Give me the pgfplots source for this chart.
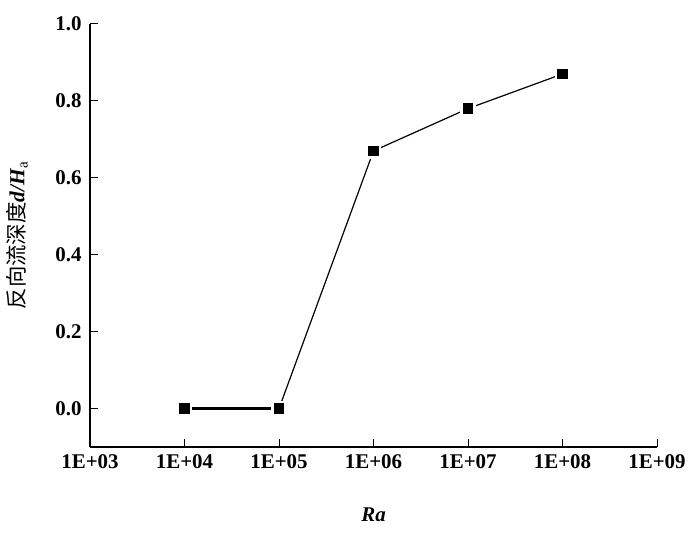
\documentclass[border=0pt]{standalone}
\usepackage{fontspec}
\setmainfont{Liberation Serif}
\newfontfamily\cjk{Noto Sans CJK SC}
\usepackage{pgfplots}
\pgfplotsset{compat=1.18}
\begin{document}
\begin{tikzpicture}
\useasboundingbox (0,0) rectangle (700bp,536bp);
\begin{axis}[
  at={(90bp,89bp)}, anchor=south west,
  scale only axis, width=567bp, height=423bp,
  xmode=log, xmin=1e3, xmax=1e9, ymin=-0.1, ymax=1.0,
  separate axis lines,
  axis x line*=bottom, axis y line*=left,
  xtick align=inside, ytick align=inside,
  axis line style={line width=1.3bp},
  tick style={line width=1bp, black},
  major tick length=8bp,
  xminorticks=false,
  xtick={1e3,1e4,1e5,1e6,1e7,1e8,1e9},
  xticklabels={1E+03,1E+04,1E+05,1E+06,1E+07,1E+08,1E+09},
  ytick={0,0.2,0.4,0.6,0.8,1.0},
  yticklabels={0.0,0.2,0.4,0.6,0.8,1.0},
  ticklabel style={font=\fontsize{21}{24}\selectfont\bfseries},
  xticklabel style={yshift=-4bp},
  yticklabel style={xshift=-5bp},
  xlabel={\textbf{\textit{Ra}}},
  xlabel style={at={(axis description cs:0.5,0)}, anchor=center, yshift=-68bp, font=\fontsize{21}{24}\selectfont},
  ylabel={{\cjk 反向流深度}{\bfseries\itshape d/H}\textsubscript{a}},
  ylabel style={at={(axis description cs:0,0.5)}, anchor=center, rotate=0, yshift=73bp, font=\fontsize{21.5}{24}\selectfont},
  clip=false,
]
\addplot[black, line width=2.2bp, mark=square*, mark size=6.5bp,
  mark options={fill=black, draw=white, line width=2.5bp}]
  coordinates {(1e4,0) (1e5,0)};
\addplot[black, line width=1.2bp, mark=square*, mark size=6.5bp,
  mark options={fill=black, draw=white, line width=2.5bp}]
  coordinates {(1e5,0) (1e6,0.67) (1e7,0.78) (1e8,0.87)};
\end{axis}
\end{tikzpicture}
\end{document}
